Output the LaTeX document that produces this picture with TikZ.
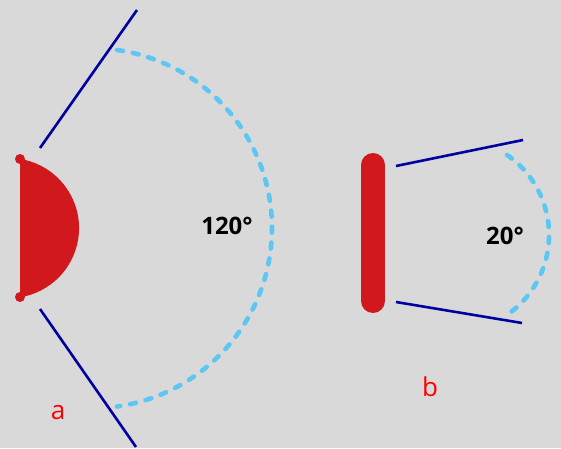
\documentclass[tikz,border=0pt]{standalone}
\usepackage{fontspec}
\setmainfont{Open Sans}
\begin{document}
\begin{tikzpicture}[x=1pt,y=1pt,
  beam/.style={draw=beamblue,line width=2.6pt},
  spread/.style={draw=arcblue,line width=4.6pt,line cap=round,dash pattern=on 6pt off 10pt},
  anglelabel/.style={font=\fontsize{24}{28}\selectfont\bfseries,text=black,inner sep=0pt},
  partlabel/.style={font=\fontsize{26}{30}\selectfont,text=red,inner sep=0pt}]
\definecolor{bg}{HTML}{D9D9D9}
\definecolor{srcred}{HTML}{D0181D}
\definecolor{beamblue}{HTML}{0000A0}
\definecolor{arcblue}{HTML}{5BC7F2}
\fill[bg] (0,0) rectangle (561,448);
\useasboundingbox (0,0) rectangle (561,448);
% ---- a ----
\coordinate (atop) at (20,289);
\coordinate (abot) at (20,151);
\fill[srcred] (atop) arc[start angle=81,end angle=-81,radius=70] -- cycle;
\fill[srcred] (atop) circle[radius=5];
\fill[srcred] (abot) circle[radius=5];
\coordinate (a1s) at (40,300);
\coordinate (a1e) at (137,438);
\coordinate (a2s) at (40,139);
\coordinate (a2e) at (136,1);
\draw[beam] (a1s) -- (a1e);
\draw[beam] (a2s) -- (a2e);
\coordinate (aarc) at (117,398);
\draw[spread] (aarc) arc[start angle=82,end angle=-82,radius=180];
\node[anglelabel] (l120) at (227,222) {120°};
\node[partlabel] (la) at (58,35.5) {a};
% ---- b ----
\coordinate (btop) at (373,283);
\coordinate (bbot) at (373,147);
\draw[srcred,line width=24pt,line cap=round] (btop) -- (bbot);
\coordinate (b1s) at (396,282);
\coordinate (b1e) at (523,308);
\coordinate (b2s) at (396,146);
\coordinate (b2e) at (522,125);
\draw[beam] (b1s) -- (b1e);
\draw[beam] (b2s) -- (b2e);
\coordinate (barc) at (507,293);
\draw[spread] (barc) arc[start angle=55.5,end angle=-55.5,radius=97];
\node[anglelabel] (l20) at (505,212) {20°};
\node[partlabel] (lb) at (430,61.5) {b};
\end{tikzpicture}
\end{document}
